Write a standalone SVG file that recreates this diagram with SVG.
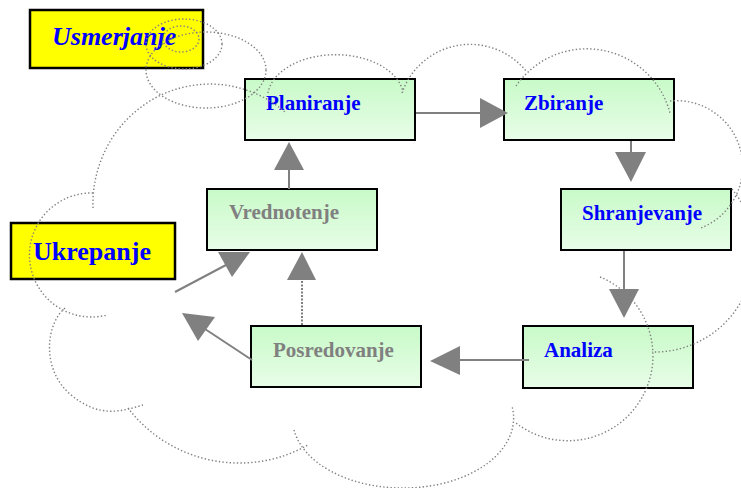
<svg xmlns="http://www.w3.org/2000/svg" width="741" height="488" viewBox="0 0 741 488">
<defs>
<linearGradient id="g" x1="0" y1="0" x2="0" y2="1"><stop offset="0" stop-color="#C8FAC8"/><stop offset="1" stop-color="#E8FDE8"/></linearGradient>
</defs>
<style>
.box{fill:url(#g);stroke:#000;stroke-width:2}
.note{fill:#FFFF00;stroke:#000;stroke-width:2.5}
.t{font-family:"Liberation Serif","Times New Roman",serif;font-weight:bold;font-size:21px}
.blue{fill:#0000FF}
.grey{fill:#808080}
.big{font-size:26px}
.line{stroke:#808080;stroke-width:2;fill:none}
.dot{stroke:#808080;stroke-width:2;fill:none;stroke-dasharray:2 1.5}
.head{fill:#808080}
.cloud{fill:none;stroke:#808080;stroke-width:1.4;stroke-dasharray:1.4 2.2}
</style>
<rect width="741" height="488" fill="#fff"/>
<g id="usmerjanje"><rect class="note" x="30" y="10" width="173" height="58"/><text class="t big blue" x="52" y="45" font-style="italic">Usmerjanje</text></g>
<g id="ukrepanje"><rect class="note" x="11" y="223" width="164" height="56"/><text class="t big blue" x="33" y="260">Ukrepanje</text></g>
<g id="planiranje"><rect class="box" x="245" y="79" width="170" height="61"/><text class="t blue" x="266" y="110">Planiranje</text></g>
<g id="zbiranje"><rect class="box" x="504" y="79" width="170" height="61"/><text class="t blue" x="524" y="110">Zbiranje</text></g>
<g id="shranjevanje"><rect class="box" x="561" y="189" width="170" height="61"/><text class="t blue" x="582" y="220">Shranjevanje</text></g>
<g id="vrednotenje"><rect class="box" x="207" y="189" width="170" height="61"/><text class="t grey" x="229" y="219">Vrednotenje</text></g>
<g id="posredovanje"><rect class="box" x="251" y="326" width="170" height="61"/><text class="t grey" x="273" y="357">Posredovanje</text></g>
<g id="analiza"><rect class="box" x="523" y="326" width="170" height="62"/><text class="t blue" x="544" y="357">Analiza</text></g>
<g id="connectors">
<path class="line" d="M416 113H481"/><polygon class="head" points="480,98 480,128 508,113"/>
<path class="line" d="M631 141V153"/><polygon class="head" points="615,152 646,152 631,182"/>
<path class="line" d="M624 251V290"/><polygon class="head" points="609,289 639,289 624,318"/>
<path class="line" d="M529 360H459"/><polygon class="head" points="460,346 460,375 430,361"/>
<path class="dot" d="M302 325V279"/><polygon class="head" points="287,280 316,280 302,252"/>
<path class="line" d="M289 189V169"/><polygon class="head" points="274,170 304,170 289,142"/>
<path class="line" d="M175 292L226 265"/><polygon class="head" points="218,252 250,252 232,277"/>
<path class="line" d="M252 360L205 329"/><polygon class="head" points="182,313 215,317 198,341"/>
</g>
<g id="cloud" class="cloud">
<path d="M93 208A117 120 0 0 1 285 112"/>
<path d="M268 93A68 43 0 0 1 403 92"/>
<path d="M402 93A72 72 0 0 1 526 71"/>
<path d="M516 86A86 86 0 0 1 670 113"/>
<path d="M670 101A66 66 0 0 1 701 228"/>
<path d="M732 189A100 100 0 0 1 652 352"/>
<path d="M600 277A85 85 0 1 1 516 423"/>
<path d="M294 430A110 70 0 0 0 403 488A110 70 0 0 0 512 406"/>
<path d="M128 408A140 140 0 0 0 308 445"/>
<path d="M65 308C45 325 42 370 70 394S120 412 143 405"/>
<path d="M93 193A62 62 0 1 0 107 315"/>
<ellipse cx="181" cy="39" rx="18" ry="13"/>
<ellipse cx="184" cy="44" rx="38" ry="25"/>
<ellipse cx="206" cy="70" rx="60" ry="38"/>
</g>
</svg>
